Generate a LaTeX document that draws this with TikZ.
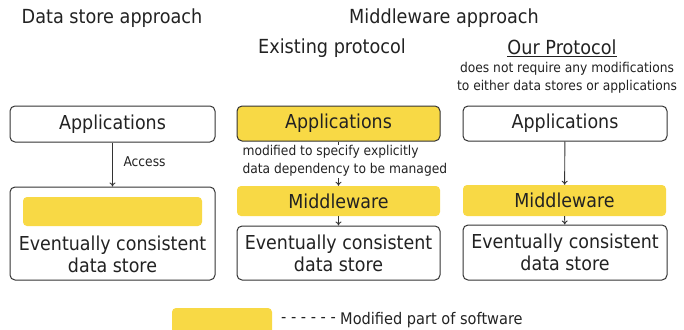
\documentclass[tikz,border=0pt]{standalone}
\usepackage{fontspec}
\setmainfont{DejaVu Sans}[FakeStretch=0.91]
\usetikzlibrary{arrows.meta}
\definecolor{ylw}{HTML}{F8D945}
\definecolor{edge}{HTML}{333333}
\definecolor{txt}{HTML}{222222}
\begin{document}
\begin{tikzpicture}[x=1pt,y=-1pt,
  box/.style={draw=edge,line width=1pt,rounded corners=5pt,fill=white,inner sep=0pt},
  ybox/.style={fill=ylw,rounded corners=4pt,inner sep=0pt},
  big/.style={font=\fontsize{19.2}{22}\selectfont,text=txt},
  title/.style={font=\fontsize{19.4}{22}\selectfont,text=txt},
  small/.style={font=\fontsize{13.5}{17.5}\selectfont,text=txt},
  legendtxt/.style={font=\fontsize{16}{19}\selectfont,text=txt},
  arr/.style={-{To[length=4pt,width=6pt]},draw=edge,line width=0.9pt}]
\useasboundingbox (0,0) rectangle (684,329);
% titles
\node[title] (t1) at (112,18) {Data store approach};
\node[title] (t2) at (444,18) {Middleware approach};
\node[title] (t3) at (332,48) {Existing protocol};
\node[title] (t4) at (562,48) {\underline{Our Protocol}};
\node[small,align=center] (t5) at (567,78) {does not require any modifications\\to either data stores or applications};
% left column
\node[box,minimum width=205,minimum height=36] (a1) at (112.5,124) {};
\node[big] at (a1) {Applications};
\node[box,minimum width=205,minimum height=93] (s1) at (112.5,233.5) {};
\node[ybox,minimum width=179,minimum height=29] (y1) at (112.5,211.5) {};
\node[big,align=center] (s1t) at (112.5,254) {Eventually consistent\\data store};
\draw[arr] (a1) -- (s1);
\node[small,anchor=west] (acc) at (120,162) {Access};
% middle column
\node[box,fill=ylw,minimum width=203,minimum height=35] (a2) at (338.5,123.5) {};
\node[big] at (a2) {Applications};
\node[ybox,minimum width=203,minimum height=30] (m2) at (338.5,201) {};
\node[big] at (m2) {Middleware};
\node[box,minimum width=203,minimum height=54] (s2) at (338.5,253) {};
\node[big,align=center] at (s2) {Eventually consistent\\data store};
\node[small,align=left,anchor=west] (mod) at (239,161) {modified to specify explicitly\\data dependency to be managed};
\draw[edge,line width=0.9pt] (a2.south) -- ++(0,3);
\coordinate (mtop) at (338.5,178);
\draw[arr] (mtop) -- (m2);
\draw[arr] (m2) -- (s2);
% right column
\node[box,minimum width=204,minimum height=35] (a3) at (565,123.5) {};
\node[big] at (a3) {Applications};
\node[ybox,minimum width=203,minimum height=31] (m3) at (564.5,200.5) {};
\node[big] at (m3) {Middleware};
\node[box,minimum width=204,minimum height=55] (s3) at (565,252.5) {};
\node[big,align=center] at (s3) {Eventually consistent\\data store};
\draw[arr] (a3) -- (m3);
\draw[arr] (m3) -- (s3);
% legend
\node[ybox,minimum width=100,minimum height=26] (lg) at (222,321) {};
\node[legendtxt,anchor=west,inner sep=0pt] (lgd) at (281,320) {- - - - - -};
\node[legendtxt,anchor=west,inner sep=0pt] (lgt) at (340,320) {Modified part of software};
\end{tikzpicture}
\end{document}
